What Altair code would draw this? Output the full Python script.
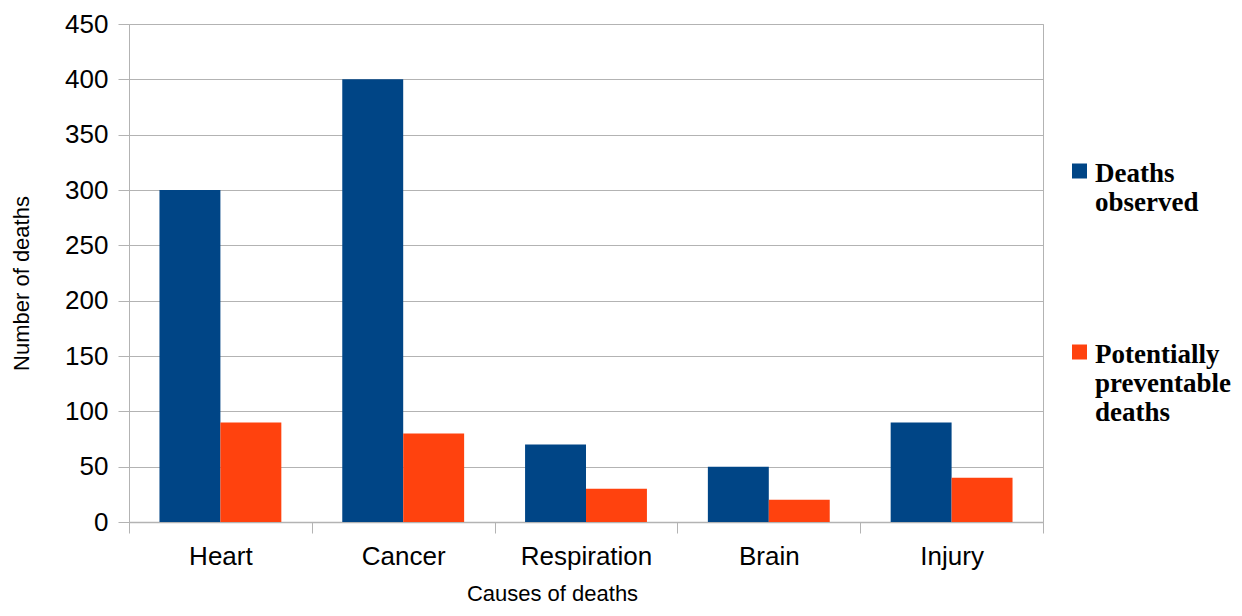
import altair as alt
import pandas as pd

causes = ["Heart", "Cancer", "Respiration", "Brain", "Injury"]
observed = [300, 400, 70, 50, 90]
preventable = [90, 80, 30, 20, 40]
series = ["Deaths observed", "Potentially preventable deaths"]
colors = ["#004586", "#ff420e"]
y_ticks = [0, 50, 100, 150, 200, 250, 300, 350, 400, 450]

rows = []
for c, o, p in zip(causes, observed, preventable):
    rows.append({"cause": c, "series": series[0], "value": o})
    rows.append({"cause": c, "series": series[1], "value": p})
df = pd.DataFrame(rows)

grid = "#b3b3b3"
sans = "Liberation Sans"

chart = (
    alt.Chart(df)
    .mark_bar()
    .encode(
        x=alt.X(
            "cause:N",
            sort=causes,
            scale=alt.Scale(paddingInner=0, paddingOuter=0),
            axis=alt.Axis(
                title="Causes of deaths",
                labelAngle=0,
                tickBand="extent",
                grid=False,
                domainColor=grid,
                domainWidth=1.5,
                tickColor=grid,
                tickSize=11,
                labelFont=sans,
                labelFontSize=26,
                labelColor="#000000",
                labelPadding=10,
                titleFont=sans,
                titleFontSize=22,
                titleFontWeight="normal",
                titleColor="#000000",
                titleX=423,
                titleY=78,
                titleBaseline="alphabetic",
                titleAlign="center",
            ),
        ),
        xOffset=alt.XOffset(
            "series:N",
            sort=series,
            scale=alt.Scale(paddingInner=0, paddingOuter=0.5),
        ),
        y=alt.Y(
            "value:Q",
            scale=alt.Scale(domain=[0, 450], nice=False),
            axis=alt.Axis(
                title="Number of deaths",
                values=y_ticks,
                domain=False,
                gridColor=grid,
                tickColor=grid,
                tickSize=11,
                labelFont=sans,
                labelFontSize=26,
                labelColor="#000000",
                labelPadding=10,
                titleFont=sans,
                titleFontSize=22,
                titleFontWeight="normal",
                titleColor="#000000",
                titleX=-108,
                titleY=259,
                titleAngle=270,
                titleBaseline="middle",
                titleAlign="center",
            ),
        ),
        color=alt.Color(
            "series:N",
            sort=series,
            scale=alt.Scale(domain=series, range=colors),
            legend=alt.Legend(
                title=None,
                orient="none",
                legendX=937,
                legendY=144,
                padding=0,
                symbolType="M-1,-2.4L1,-2.4L1,-0.4L-1,-0.4Z",
                symbolSize=225,
                symbolStrokeWidth=0,
                symbolOpacity=1,
                labelFont="Liberation Serif",
                labelFontSize=27,
                labelFontWeight="bold",
                labelColor="#000000",
                labelBaseline="alphabetic",
                labelOffset=2,
                labelLimit=300,
                rowPadding=124,
                labelExpr="datum.label == 'Deaths observed' ? ['Deaths', 'observed'] : ['Potentially', 'preventable', 'deaths']",
            ),
        ),
    )
    .properties(
        width=914,
        height=498,
        padding={"left": 121, "top": 16, "right": 191, "bottom": 86},
        autosize=alt.AutoSizeParams(type="none"),
    )
    .configure_view(stroke=grid, strokeWidth=1)
)

chart.save("out.html", embed_options={"renderer": "svg", "actions": False})
